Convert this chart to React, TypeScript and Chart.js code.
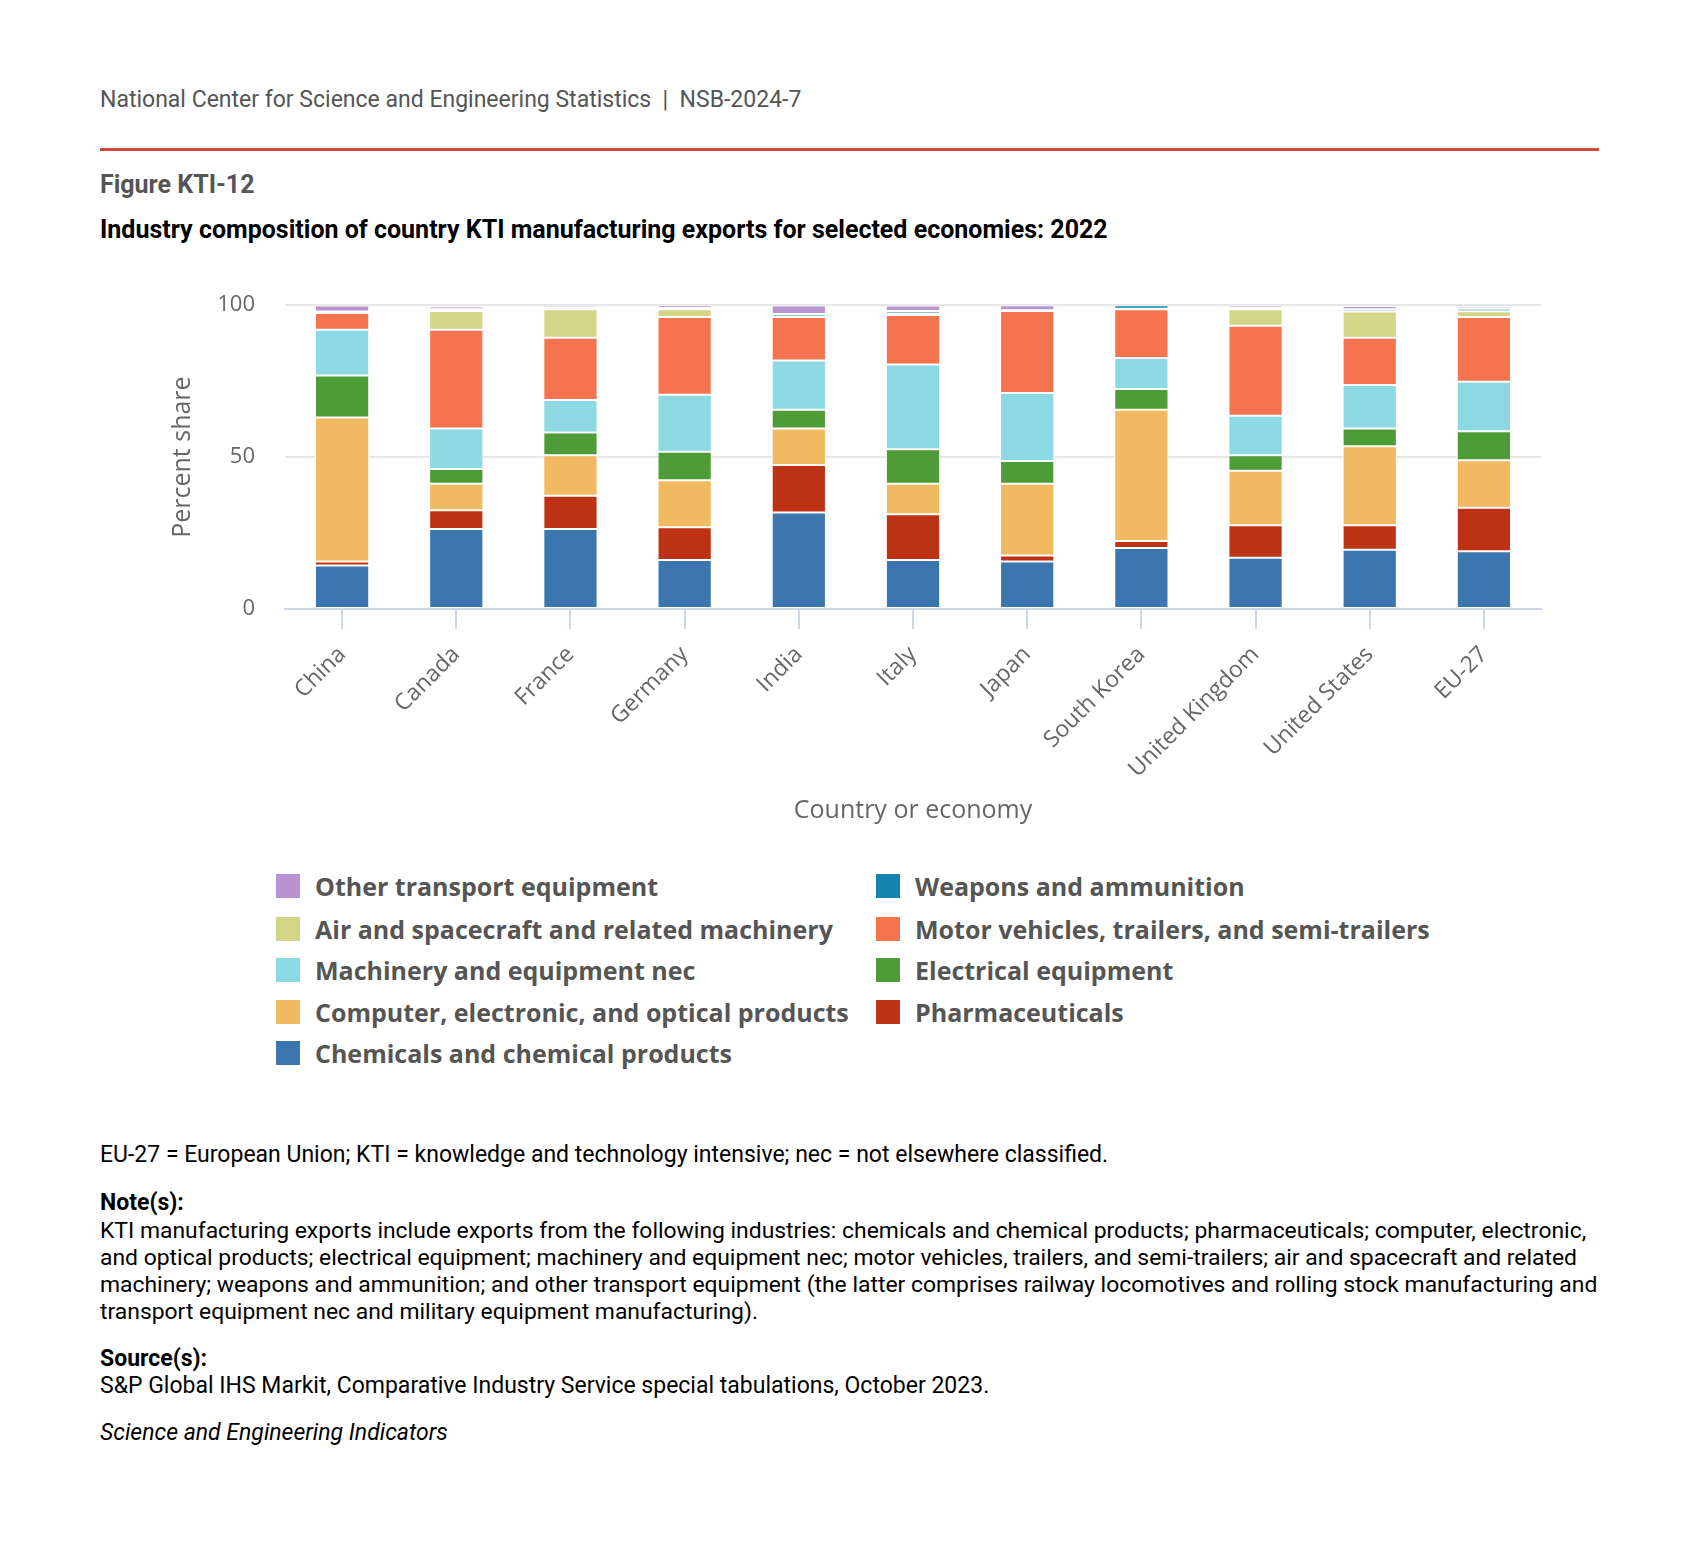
import React, { useEffect, useRef } from "react";
import { Chart, registerables } from "chart.js";

Chart.register(...registerables);

const categories = ["China", "Canada", "France", "Germany", "India", "Italy", "Japan", "South Korea", "United Kingdom", "United States", "EU-27"];

const chemicals = [14.3, 26.3, 26.3, 16.1, 31.8, 16.1, 15.6, 20.1, 16.9, 19.5, 19.0];
const pharmaceuticals = [1.3, 6.2, 11.0, 10.8, 15.6, 15.1, 2.0, 2.3, 10.7, 8.1, 14.3];
const computer = [47.4, 8.7, 13.3, 15.5, 12.0, 10.0, 23.6, 43.2, 17.9, 26.0, 15.7];
const electrical = [13.9, 4.9, 7.5, 9.4, 6.2, 11.4, 7.5, 6.8, 5.1, 5.8, 9.5];
const machinery = [15.0, 13.3, 10.7, 18.7, 16.2, 27.9, 22.4, 10.2, 13.0, 14.3, 16.3];
const motorVehicles = [5.5, 32.5, 20.5, 25.6, 14.3, 16.3, 27.0, 16.1, 29.6, 15.6, 21.3];
const aircraft = [0.1, 6.2, 9.4, 2.6, 0.2, 0.5, 0.1, 0.1, 5.5, 8.6, 1.9];
const weapons = [0.4, 0.6, 0.5, 0.4, 0.8, 0.8, 0.1, 1.2, 0.5, 0.8, 0.8];
const otherTransport = [2.0, 0.9, 0.7, 0.9, 2.8, 1.8, 1.7, 0.1, 0.8, 1.0, 0.8];

const yTicks = [0, 50, 100];

// stacking order bottom -> top
const seriesNames = [
  "Chemicals and chemical products",
  "Pharmaceuticals",
  "Computer, electronic, and optical products",
  "Electrical equipment",
  "Machinery and equipment nec",
  "Motor vehicles, trailers, and semi-trailers",
  "Air and spacecraft and related machinery",
  "Weapons and ammunition",
  "Other transport equipment",
];
const seriesValues = [chemicals, pharmaceuticals, computer, electrical, machinery, motorVehicles, aircraft, weapons, otherTransport];
const seriesColors = ["#3b76af", "#bd3214", "#f0b962", "#4e9c37", "#8cd8e3", "#f5744f", "#d4d687", "#1584b0", "#b894d2"];

// legend layout (row-major, two columns) as indices into series arrays
const legendOrder = [8, 7, 6, 5, 4, 3, 2, 1, 0];

const noteLines = [
  "KTI manufacturing exports include exports from the following industries: chemicals and chemical products; pharmaceuticals; computer, electronic,",
  "and optical products; electrical equipment; machinery and equipment nec; motor vehicles, trailers, and semi-trailers; air and spacecraft and related",
  "machinery; weapons and ammunition; and other transport equipment (the latter comprises railway locomotives and rolling stock manufacturing and",
  "transport equipment nec and military equipment manufacturing).",
];

const CANVAS_LEFT = 160;
const CANVAS_TOP = 262;
const CANVAS_W = 1400;
const CANVAS_H = 573;

function BarChart() {
  const ref = useRef<HTMLCanvasElement | null>(null);
  useEffect(() => {
    if (!ref.current) return;
    const chart = new Chart(ref.current, {
      type: "bar",
      data: {
        labels: categories,
        datasets: seriesNames.map((name, i) => ({
          label: name,
          data: seriesValues[i],
          backgroundColor: seriesColors[i],
          borderColor: "#ffffff",
          borderWidth: 1,
          borderSkipped: false,
          categoryPercentage: 1,
          barPercentage: 0.475,
        })),
      },
      options: {
        animation: false,
        responsive: false,
        devicePixelRatio: 1,
        layout: { padding: { top: 6, right: 19, left: 0, bottom: 0 } },
        plugins: {
          legend: { display: false },
          tooltip: { enabled: false },
        },
        scales: {
          x: {
            stacked: true,
            border: { display: true, color: "#ccd6eb", width: 2 },
            grid: {
              display: true,
              drawOnChartArea: false,
              drawTicks: true,
              tickLength: 20,
              color: "#ccd6eb",
              lineWidth: 2,
              offset: false,
            },
            ticks: {
              maxRotation: 45,
              minRotation: 45,
              autoSkip: false,
              padding: 12,
              color: "#666666",
              font: { family: "'Open Sans'", size: 23 },
            },
            title: {
              display: true,
              text: "Country or economy",
              color: "#666666",
              font: { family: "'Open Sans'", size: 25 },
              padding: { top: 0, bottom: 9 },
            },
            afterFit: (scale: any) => {
              scale.height = 226;
            },
          },
          y: {
            stacked: true,
            min: 0,
            max: 100,
            afterBuildTicks: (scale: any) => {
              scale.ticks = yTicks.map((v) => ({ value: v }));
            },
            border: { display: false },
            grid: {
              color: (ctx: any) => (ctx.tick && ctx.tick.value === 0 ? "rgba(0,0,0,0)" : "#e6e6e6"),
              lineWidth: 2,
              drawTicks: false,
            },
            ticks: {
              padding: 30,
              color: "#666666",
              font: { family: "'Open Sans'", size: 22 },
            },
            title: {
              display: true,
              text: "Percent share",
              color: "#666666",
              font: { family: "'Open Sans'", size: 25 },
              padding: { top: 8, bottom: 0 },
            },
            afterFit: (scale: any) => {
              scale.width = 125;
            },
          },
        },
      },
    });
    return () => chart.destroy();
  }, []);
  return (
    <canvas
      ref={ref}
      width={CANVAS_W}
      height={CANVAS_H}
      style={{ position: "absolute", left: CANVAS_LEFT, top: CANVAS_TOP, width: CANVAS_W, height: CANVAS_H }}
    />
  );
}

const text = (top: number, left: number, style: React.CSSProperties, content: React.ReactNode, key?: string) => (
  <div key={key} style={{ position: "absolute", top, left, whiteSpace: "nowrap", ...style }}>
    {content}
  </div>
);

export default function App() {
  const roboto = "Roboto, 'Liberation Sans', sans-serif";
  const openSans = "'Open Sans', 'Noto Sans', sans-serif";
  const legendRows = [886, 929, 970, 1012, 1053];
  return (
    <div style={{ position: "absolute", left: 0, top: 0, width: 1699, height: 1556, background: "#ffffff", overflow: "hidden" }}>
      {text(86, 100, { fontFamily: roboto, fontSize: 23, lineHeight: "28px", color: "#555555" }, "National Center for Science and Engineering Statistics\u00a0\u00a0|\u00a0\u00a0NSB-2024-7")}
      <div style={{ position: "absolute", left: 100, top: 148, width: 1499, height: 3, background: "#c84b38" }} />
      {text(171, 100, { fontFamily: roboto, fontSize: 25, lineHeight: "28px", fontWeight: 700, color: "#555555" }, "Figure KTI-12")}
      {text(216, 100, { fontFamily: roboto, fontSize: 25, lineHeight: "28px", fontWeight: 700, color: "#000000" }, "Industry composition of country KTI manufacturing exports for selected economies: 2022")}

      <BarChart />

      {legendOrder.map((si, k) => {
        const col = k % 2;
        const row = Math.floor(k / 2);
        const cy = legendRows[row];
        const sx = col === 0 ? 276 : 876;
        return (
          <div key={seriesNames[si]}>
            <div style={{ position: "absolute", left: sx, top: cy - 12, width: 24, height: 24, background: seriesColors[si] }} />
            {text(cy - 16, sx + 39, { fontFamily: openSans, fontSize: 25, lineHeight: "32px", fontWeight: 700, color: "#555555" }, seriesNames[si])}
          </div>
        );
      })}

      {text(1141, 100, { fontFamily: roboto, fontSize: 23, lineHeight: "28px", color: "#000000" }, "EU-27 = European Union; KTI = knowledge and technology intensive; nec = not elsewhere classified.")}
      {text(1189, 100, { fontFamily: roboto, fontSize: 23, lineHeight: "28px", fontWeight: 700, color: "#000000" }, "Note(s):")}
      {noteLines.map((l, i) => text(1217 + i * 27, 100, { fontFamily: roboto, fontSize: 22.9, lineHeight: "28px", color: "#000000" }, l, "n" + i))}
      {text(1345, 100, { fontFamily: roboto, fontSize: 23, lineHeight: "28px", fontWeight: 700, color: "#000000" }, "Source(s):")}
      {text(1372, 100, { fontFamily: roboto, fontSize: 23, lineHeight: "28px", color: "#000000" }, "S&P Global IHS Markit, Comparative Industry Service special tabulations, October 2023.")}
      {text(1419, 100, { fontFamily: roboto, fontSize: 23, lineHeight: "28px", fontStyle: "italic", color: "#000000" }, "Science and Engineering Indicators")}
    </div>
  );
}
